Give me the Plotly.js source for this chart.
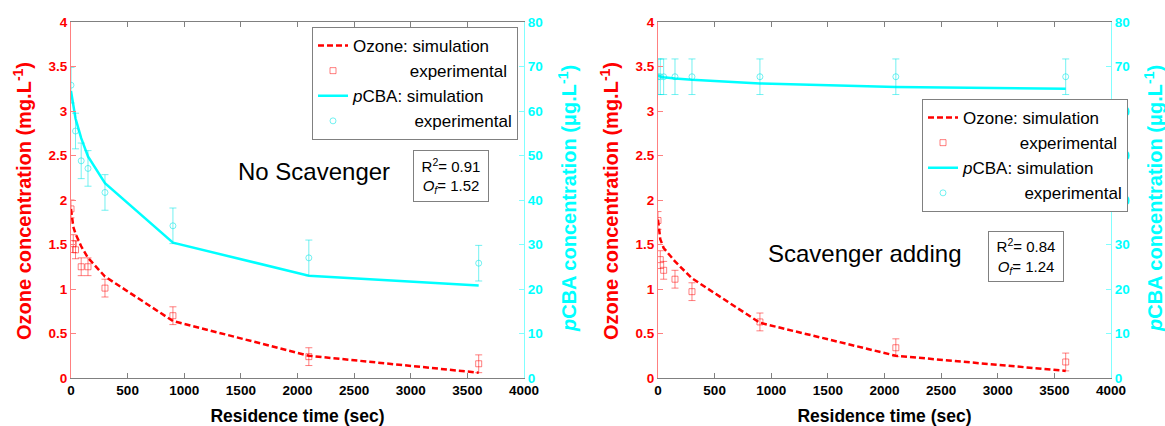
<!DOCTYPE html>
<html><head><meta charset="utf-8">
<script src="https://cdn.plot.ly/plotly-3.0.1.min.js"></script>
<style>html,body{margin:0;padding:0;background:#fff}#chart{width:1165px;height:426px}</style>
</head><body><div id="chart"></div>
<script>
// ---- Data: left panel (No Scavenger) ----
const timeSimL   = [0, 20, 40, 90, 150, 300, 900, 2100, 3600];
const ozoneSimL  = [1.90, 1.70, 1.62, 1.48, 1.35, 1.14, 0.64, 0.25, 0.06];
const pcbaSimL   = [64.5, 61.5, 58.3, 53.9, 49.8, 43.8, 30.4, 23.0, 20.8];
const timeOzExpL = [0, 20, 40, 90, 150, 300, 900, 2100, 3600];
const ozoneExpL  = [1.90, 1.51, 1.44, 1.25, 1.25, 1.01, 0.70, 0.24, 0.16];
const ozoneErrL  = [0.1, 0.1, 0.1, 0.1, 0.1, 0.1, 0.1, 0.1, 0.1];
const timePcExpL = [0, 40, 90, 150, 300, 900, 2100, 3600];
const pcbaExpL   = [65.8, 55.5, 48.8, 47.1, 41.7, 34.2, 27.0, 25.8];
const pcbaErrL   = [4, 4, 4, 4, 4, 4, 4, 4];

// ---- Data: right panel (Scavenger adding) ----
const timeSimR   = [0, 20, 50, 150, 300, 900, 2100, 3600];
const ozoneSimR  = [1.78, 1.56, 1.46, 1.31, 1.12, 0.62, 0.25, 0.08];
const pcbaSimR   = [67.9, 67.8, 67.6, 67.3, 67.0, 66.2, 65.4, 65.0];
const timeExpR   = [0, 20, 50, 150, 300, 900, 2100, 3600];
const ozoneExpR  = [1.77, 1.33, 1.21, 1.11, 0.97, 0.63, 0.34, 0.18];
const ozoneErrR  = [0.1, 0.1, 0.1, 0.1, 0.1, 0.1, 0.1, 0.1];
const pcbaExpR   = [67.7, 67.7, 67.7, 67.7, 67.7, 67.7, 67.7, 67.7];
const pcbaErrR   = [4, 4, 4, 4, 4, 4, 4, 4];

// ---- Tick labels ----
const xTickVals = [0, 500, 1000, 1500, 2000, 2500, 3000, 3500, 4000];
const xTickText = ['0', '500', '1000', '1500', '2000', '2500', '3000', '3500', '4000'];
const yLTickVals = [0, 0.5, 1, 1.5, 2, 2.5, 3, 3.5, 4];
const yLTickText = ['0', '0.5', '1', '1.5', '2', '2.5', '3', '3.5', '4'];
const yRTickVals = [0, 10, 20, 30, 40, 50, 60, 70, 80];
const yRTickText = ['0', '10', '20', '30', '40', '50', '60', '70', '80'];

// ---- Labels ----
const xTitle = '<b>Residence time (sec)</b>';
const yLeftTitle = '<b>Ozone concentration (mg.L<sup>-1</sup>)</b>';
const yRightTitle = '<b><i>p</i>CBA concentration (μg.L<sup>-1</sup>)</b>';
const panelLabels = ['No Scavenger', 'Scavenger adding'];
const statLabels = ['R<sup>2</sup>= 0.91<br><i>O</i><sub><i>f</i></sub>= 1.52',
                    'R<sup>2</sup>= 0.84<br><i>O</i><sub><i>f</i></sub>= 1.24'];
const NB = '\u00A0';
const legOzSim = 'Ozone: simulation';
const legOzExp = NB.repeat(12) + 'experimental';
const legPcSim = '<i>p</i>CBA: simulation';
const legPcExp = NB.repeat(13) + 'experimental';

const FONT = '"Liberation Sans", Arial, sans-serif';
const RED = '#ff0000', CYAN = '#00ffff';
const RED_L = 'rgba(255,0,0,0.5)', CYAN_L = 'rgba(0,230,230,0.55)';
const W = 1165, H = 426;
const bold = a => a.map(s => '<b>' + s + '</b>');

function panelTraces(xa, yL, yR, leg, tSim, ozSim, pcSim, tOz, ozExp, ozErr, tPc, pcExp, pcErr) {
  return [
    {x: tSim, y: ozSim, xaxis: xa, yaxis: yL, legend: leg, mode: 'lines', name: legOzSim,
     line: {color: RED, width: 2.5, dash: '6px,3px'}},
    {x: tOz, y: ozExp, xaxis: xa, yaxis: yL, legend: leg, mode: 'markers', name: legOzExp,
     marker: {symbol: 'square-open', size: 6, color: RED_L, line: {width: 1}},
     error_y: {type: 'data', array: ozErr, visible: true, color: RED_L, thickness: 1, width: 3.5}},
    {x: tSim, y: pcSim, xaxis: xa, yaxis: yR, legend: leg, mode: 'lines', name: legPcSim,
     line: {color: CYAN, width: 2.5}},
    {x: tPc, y: pcExp, xaxis: xa, yaxis: yR, legend: leg, mode: 'markers', name: legPcExp,
     marker: {symbol: 'circle-open', size: 6, color: CYAN_L, line: {width: 1}},
     error_y: {type: 'data', array: pcErr, visible: true, color: CYAN_L, thickness: 1, width: 3.5}}
  ];
}

const data = [].concat(
  panelTraces('x', 'y', 'y2', 'legend', timeSimL, ozoneSimL, pcbaSimL, timeOzExpL, ozoneExpL, ozoneErrL, timePcExpL, pcbaExpL, pcbaErrL),
  panelTraces('x2', 'y3', 'y4', 'legend2', timeSimR, ozoneSimR, pcbaSimR, timeExpR, ozoneExpR, ozoneErrR, timeExpR, pcbaExpR, pcbaErrR)
);

function xAxis(dom, anchor) {
  return {domain: dom, anchor: anchor, range: [0, 4000], tickmode: 'array',
    tickvals: xTickVals, ticktext: bold(xTickText),
    ticks: 'inside', ticklen: 5, tickcolor: '#808080', showline: true, linecolor: '#808080',
    mirror: 'ticks', showgrid: false, zeroline: false,
    tickfont: {family: FONT, size: 13.5, color: '#000', weight: 700},
    title: {text: xTitle, font: {family: FONT, size: 17.5, color: '#000'}}};
}
const yDom = [1 - 378 / H, 1 - 22 / H];
function yLeft(anchor) {
  return {domain: yDom, anchor: anchor, range: [0, 4], tickmode: 'array',
    tickvals: yLTickVals, ticktext: bold(yLTickText),
    ticks: 'inside', ticklen: 5, tickcolor: '#ff8080', showline: true, linecolor: '#ff8080',
    showgrid: false, zeroline: false,
    tickfont: {family: FONT, size: 13.5, color: RED, weight: 700}};
}
function yRight(anchor, over) {
  return {domain: yDom, anchor: anchor, overlaying: over, side: 'right', range: [0, 80], tickmode: 'array',
    tickvals: yRTickVals, ticktext: bold(yRTickText),
    ticks: 'inside', ticklen: 5, tickcolor: '#80ffff', showline: true, linecolor: '#80ffff',
    showgrid: false, zeroline: false,
    tickfont: {family: FONT, size: 13.5, color: CYAN, weight: 700}};
}
const legendBase = {xanchor: 'left', yanchor: 'top', bgcolor: '#fff', bordercolor: '#808080', borderwidth: 1,
  font: {family: FONT, size: 17, color: '#000'}, traceorder: 'normal'};

function yTitleAnn(xPx, yPx, text, color) {
  return {xref: 'paper', yref: 'paper', x: xPx / W, y: 1 - yPx / H, xanchor: 'center', yanchor: 'middle',
    textangle: -90, text: text, showarrow: false, font: {family: FONT, size: 20, color: color}};
}

const layout = {
  width: W, height: H, margin: {l: 0, r: 0, t: 0, b: 0},
  paper_bgcolor: '#fff', plot_bgcolor: '#fff', font: {family: FONT},
  showlegend: true,
  xaxis: xAxis([71 / W, 524 / W], 'y'),
  yaxis: yLeft('x'),
  yaxis2: yRight('x', 'y'),
  xaxis2: xAxis([658 / W, 1111 / W], 'y3'),
  yaxis3: yLeft('x2'),
  yaxis4: yRight('x2', 'y3'),
  legend: Object.assign({x: 312 / W, y: 1 - 27 / H}, legendBase),
  legend2: Object.assign({x: 922 / W, y: 1 - 99 / H}, legendBase),
  annotations: [
    yTitleAnn(22, 201, yLeftTitle, RED),
    yTitleAnn(567, 199, yRightTitle, CYAN),
    yTitleAnn(609, 201, yLeftTitle, RED),
    yTitleAnn(1153, 199, yRightTitle, CYAN),
    {xref: 'paper', yref: 'paper', x: 313.5 / W, y: 1 - 171 / H, xanchor: 'center', yanchor: 'middle',
     text: panelLabels[0], showarrow: false, font: {family: FONT, size: 24, color: '#000'}},
    {xref: 'paper', yref: 'paper', x: 864 / W, y: 1 - 253 / H, xanchor: 'center', yanchor: 'middle',
     text: panelLabels[1], showarrow: false, font: {family: FONT, size: 24, color: '#000'}},
    {xref: 'paper', yref: 'paper', x: 451.3 / W, y: 1 - 176 / H, xanchor: 'center', yanchor: 'middle',
     text: statLabels[0], showarrow: false,
     width: 74, height: 50, borderpad: 0, bordercolor: '#808080', borderwidth: 1, bgcolor: '#fff',
     font: {family: FONT, size: 15, color: '#000'}},
    {xref: 'paper', yref: 'paper', x: 1025.5 / W, y: 1 - 256 / H, xanchor: 'center', yanchor: 'middle',
     text: statLabels[1], showarrow: false,
     width: 74, height: 49, borderpad: 0, bordercolor: '#808080', borderwidth: 1, bgcolor: '#fff',
     font: {family: FONT, size: 15, color: '#000'}}
  ]
};

Plotly.newPlot('chart', data, layout, {displayModeBar: false, staticPlot: true});
</script>
</body></html>
